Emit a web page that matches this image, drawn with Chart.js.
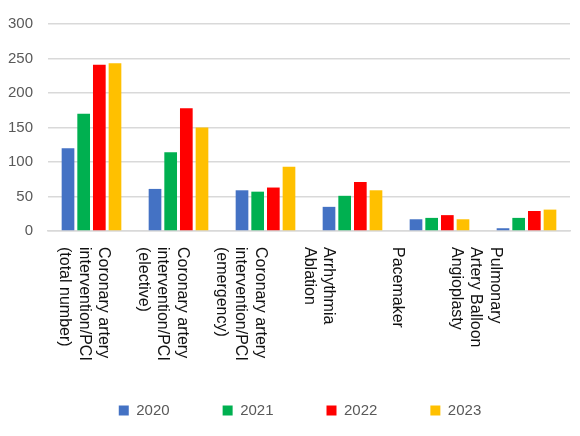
<!DOCTYPE html>
<html>
<head>
<meta charset="utf-8">
<script src="https://cdn.jsdelivr.net/npm/chart.js@4"></script>
<style>
  html, body { margin: 0; padding: 0; background: #fff; }
  #wrap { width: 580px; height: 436px; }
</style>
</head>
<body>
<div id="wrap"><canvas id="procedures-chart"></canvas></div>
<script>
const categories = [
    ['Coronary artery', 'intervention/PCI', '(total number)'],
    ['Coronary artery', 'intervention/PCI', '(elective)'],
    ['Coronary artery', 'intervention/PCI', '(emergency)'],
    ['Arrhythmia', 'Ablation'],
    ['Pacemaker'],
    ['Pulmonary', 'Artery Balloon', 'Angioplasty']
];
const years = ['2020', '2021', '2022', '2023'];
const values2020 = [120, 61, 59, 35, 17, 4];
const values2021 = [170, 114, 57, 51, 19, 19];
const values2022 = [241, 178, 63, 71, 23, 29];
const values2023 = [243, 150, 93, 59, 17, 31];
const yTicks = [0, 50, 100, 150, 200, 250, 300];

// labels read top-to-bottom, so draw them ourselves (Chart.js only rotates the other way)
const verticalLabels = {
    id: 'verticalLabels',
    afterLayout(chart) {
        // legend in the original sits a bit right of centre
        chart.legend.left += 22;
    },
    afterDraw(chart) {
        const ctx = chart.ctx;
        const xScale = chart.scales.x;
        const left = chart.chartArea.left;
        const lineHeight = 19.5;
        ctx.save();
        ctx.font = '16px "Liberation Sans", Arial, sans-serif';
        ctx.fillStyle = '#111';
        ctx.textAlign = 'left';
        ctx.textBaseline = 'middle';
        categories.forEach((lines, i) => {
            const tickX = xScale.getPixelForTick(i);
            const cx = left + (tickX - left) * 0.9 - 3;
            const top = chart.chartArea.bottom + 16;
            ctx.save();
            ctx.translate(cx, top);
            ctx.rotate(Math.PI / 2);
            lines.forEach((line, j) => {
                ctx.fillText(line, 0, (j - (lines.length - 1) / 2) * lineHeight);
            });
            ctx.restore();
        });
        ctx.restore();
    }
};

const procChart = document.getElementById('procedures-chart');
new Chart(procChart, {
    type: 'bar',
    data: {
        labels: categories,
        datasets: [
            { label: years[0], data: values2020, backgroundColor: '#4472C4' },
            { label: years[1], data: values2021, backgroundColor: '#00B050' },
            { label: years[2], data: values2022, backgroundColor: '#FF0000' },
            { label: years[3], data: values2023, backgroundColor: '#FFC000' }
        ]
    },
    options: {
        responsive: true,
        maintainAspectRatio: false,
        animation: false,
        layout: { padding: { top: 9, right: 10, left: 8, bottom: 8 } },
        datasets: {
            bar: { barPercentage: 0.81, categoryPercentage: 0.72 }
        },
        scales: {
            x: {
                ticks: { display: false },
                grid: { display: false, drawTicks: false },
                border: { display: true, color: '#d9d9d9', width: 1.5 },
                afterFit: s => { s.height = 119; }
            },
            y: {
                min: 0,
                max: 300,
                afterBuildTicks: s => { s.ticks = yTicks.map(v => ({ value: v })); },
                afterFit: s => { s.width = 40; },
                ticks: {
                    padding: 15,
                    color: '#595959',
                    font: { family: '"Liberation Sans", Arial, sans-serif', size: 15 }
                },
                grid: { color: '#d9d9d9', lineWidth: 1.5, drawTicks: false },
                border: { display: false }
            }
        },
        plugins: {
            legend: {
                position: 'bottom',
                labels: {
                    boxWidth: 10,
                    boxHeight: 10,
                    padding: 53,
                    color: '#595959',
                    font: { family: '"Liberation Sans", Arial, sans-serif', size: 15 }
                }
            },
            tooltip: { enabled: false }
        }
    },
    plugins: [verticalLabels]
});
</script>
</body>
</html>
